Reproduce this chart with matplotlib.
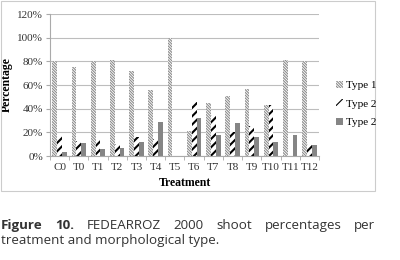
import numpy as np
import matplotlib
matplotlib.use("Agg")
import matplotlib.pyplot as plt
from matplotlib.patches import Rectangle, Patch

# data
treatments = ["C0", "T0", "T1", "T2", "T3", "T4", "T5", "T6",
              "T7", "T8", "T9", "T10", "T11", "T12"]
type1 = [80, 75, 80, 81, 72, 56, 100, 21, 45, 51, 57, 43, 81, 80]
type2 = [17, 13, 14, 10, 16, 14, 0, 46, 35, 20, 25, 43, 0, 10]
type3 = [3, 11, 6, 7, 12, 29, 0, 32, 18, 28, 16, 12, 18, 9]
legend_names = ["Type 1", "Type 2", "Type 2"]
yticks = [0, 20, 40, 60, 80, 100, 120]

plt.rcParams["font.family"] = ["Liberation Serif", "DejaVu Serif"]
plt.rcParams["hatch.linewidth"] = 0.8

H1 = "\\" * 12
H2 = "////"

fig = plt.figure(figsize=(4, 2.6), dpi=100)
ax = fig.add_axes([0.125, 0.40, 0.6725, 0.546])

x = np.arange(len(treatments))
w = 0.25
b1 = ax.bar(x - w, type1, w, color="white", edgecolor="#8c8c8c",
            linewidth=0, hatch=H1)
b2 = ax.bar(x, type2, w, color="white", edgecolor="black",
            linewidth=0, hatch=H2)
b3 = ax.bar(x + w, type3, w, color="#858585", linewidth=0)
for b in b2:
    if hasattr(b, "set_hatch_linewidth"):
        b.set_hatch_linewidth(1.5)

ax.set_ylim(0, 120)
ax.set_xlim(-0.5, len(treatments) - 0.5)
ax.set_yticks(yticks)
ax.set_yticklabels([f"{v}%" for v in yticks], fontsize=8, color="#333333")
ax.yaxis.grid(True, color="#bdbdbd", linewidth=0.8)
ax.set_axisbelow(True)
ax.set_xticks(x)
ax.set_xticklabels(treatments, fontsize=8, color="#333333")
ax.set_xticks(np.arange(-0.5, len(treatments)), minor=True)
ax.tick_params(axis="x", which="major", length=0, pad=5)
ax.tick_params(axis="x", which="minor", length=3, color="#aaaaaa")
ax.tick_params(axis="y", length=3, color="#aaaaaa", pad=2)
for s in ["top", "right"]:
    ax.spines[s].set_visible(False)
ax.spines["left"].set_color("#aaaaaa")
ax.spines["bottom"].set_color("#aaaaaa")

ax.set_ylabel("Percentage", fontsize=8.5, fontweight="bold", labelpad=3)
ax.set_xlabel("Treatment", fontsize=8.5, fontweight="bold", labelpad=4)

handles = [Patch(facecolor="white", edgecolor="#8c8c8c", linewidth=0, hatch=H1),
           Patch(facecolor="white", edgecolor="black", linewidth=0, hatch=H2),
           Patch(facecolor="#858585", linewidth=0)]
fig.legend(handles, legend_names, loc="center left", bbox_to_anchor=(0.815, 0.6),
           frameon=False, fontsize=8, handlelength=0.6, handleheight=0.6,
           handletextpad=0.3, labelspacing=0.8)

# chart border
fig.patches.append(Rectangle((0.002, 0.265), 0.935, 0.733, transform=fig.transFigure,
                             fill=False, edgecolor="#cccccc", linewidth=0.8))

# caption, first line justified
cap_font = ["Open Sans", "DejaVu Sans"]
words = ["Figure", "10.", "FEDEARROZ", "2000", "shoot", "percentages", "per"]
bold = [True, True, False, False, False, False, False]
fig.canvas.draw()
r = fig.canvas.get_renderer()
texts = []
for wd, bd in zip(words, bold):
    t = fig.text(0, 0.12, wd, fontsize=9.6, family=cap_font, color="#333333",
                 fontweight="bold" if bd else "normal", va="baseline")
    texts.append(t)
widths = [t.get_window_extent(r).width for t in texts]
x0, x1 = 1.0, 375.0
gap = (x1 - x0 - sum(widths)) / (len(words) - 1)
pos = x0
for t, wdt in zip(texts, widths):
    t.set_x(pos / 400)
    pos += wdt + gap
fig.text(1 / 400, 0.062, "treatment and morphological type.", fontsize=9.6,
         family=cap_font, color="#333333", va="baseline")

fig.savefig("out.png", dpi=100)
